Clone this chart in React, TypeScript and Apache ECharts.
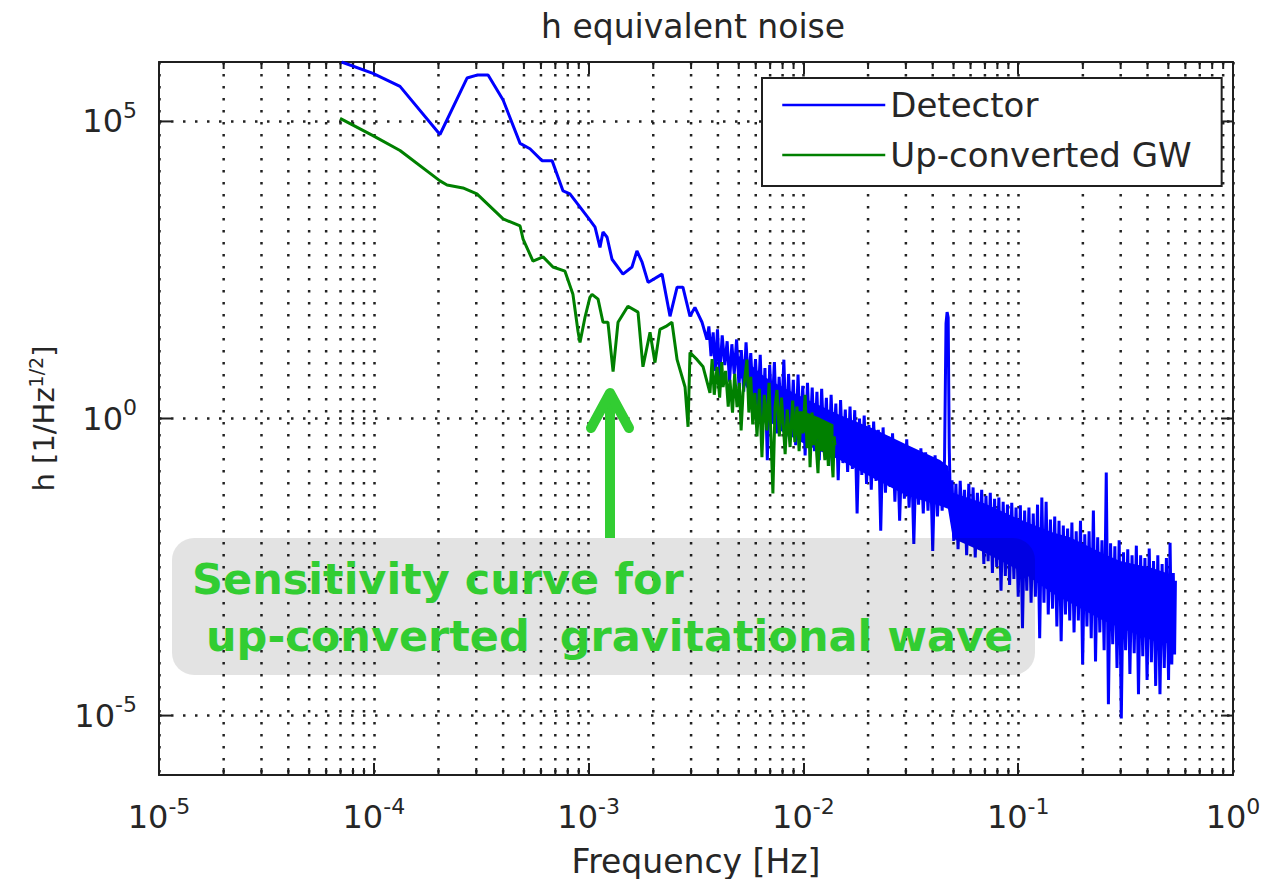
import React, { useEffect, useRef } from 'react';
import * as echarts from 'echarts';

// All points are [log10(frequency / Hz), log10(h / Hz^-1/2)].
const detectorLow: [number, number][] = [
  [-4.15, 6.0], [-4.004, 5.81], [-3.878, 5.59], [-3.692, 4.78], [-3.566, 5.73], [-3.52, 5.78],
  [-3.468, 5.78], [-3.398, 5.36], [-3.319, 4.63], [-3.273, 4.54], [-3.217, 4.34], [-3.17, 4.34],
  [-3.119, 3.83], [-3.087, 3.78], [-2.998, 3.36], [-2.97, 3.22], [-2.947, 2.88], [-2.933, 3.14],
  [-2.914, 3.05], [-2.891, 2.68], [-2.84, 2.43], [-2.798, 2.55], [-2.775, 2.82], [-2.751, 2.63],
  [-2.723, 2.29], [-2.658, 2.43], [-2.621, 1.72], [-2.588, 2.21], [-2.561, 2.21], [-2.528, 1.72],
  [-2.505, 1.87], [-2.472, 1.62], [-2.449, 1.33],
];

const detectorNoise: [number, number][] = [
  [-2.44, 1.55], [-2.43, 1.05], [-2.42, 1.45], [-2.41, 0.8], [-2.4, 1.5], [-2.39, 0.7], [-2.378, 1.4], [-2.366, 0.9], [-2.355, 1.3], [-2.344, 0.62],
  [-2.333, 1.25], [-2.322, 0.75], [-2.311, 1.33], [-2.3, 0.55], [-2.289, 1.15], [-2.278, 0.45], [-2.267, 1.28], [-2.256, 0.6], [-2.245, 1.1], [-2.234, 0.3],
  [-2.223, 1.0], [-2.212, 0.2], [-2.201, 1.07], [-2.19, -0.1], [-2.179, 0.85], [-2.168, -0.7], [-2.157, 0.9], [-2.146, 0.1], [-2.135, 0.95], [-2.124, -0.25],
  [-2.113, 0.7], [-2.102, -0.05], [-2.091, 0.99], [-2.08, -0.3], [-2.069, 0.75], [-2.058, -0.2], [-2.047, 0.65], [-2.036, -0.45], [-2.025, 0.74], [-2.014, -0.35],
  [-2.003, 0.55], [-1.992, -0.62], [-1.981, 0.6], [-1.97, -0.4], [-1.959, 0.52], [-1.948, -0.55], [-1.937, 0.45], [-1.926, -0.7], [-1.915, 0.5], [-1.904, -0.48],
  [-1.893, 0.35], [-1.882, -0.8], [-1.871, 0.4], [-1.86, -0.6], [-1.849, 0.25], [-1.838, -1.04], [-1.827, 0.31], [-1.816, -0.75], [-1.805, 0.15], [-1.794, -0.9],
  [-1.783, 0.2], [-1.772, -0.85], [-1.761, 0.14], [-1.75, -1.6], [-1.739, 0.0], [-1.728, -0.95], [-1.717, 0.05], [-1.706, -1.1], [-1.695, -0.11], [-1.684, -1.2],
  [-1.673, -0.05], [-1.662, -1.05], [-1.651, -0.19], [-1.64, -1.89], [-1.629, -0.15], [-1.618, -1.25], [-1.607, -0.3], [-1.596, -1.15], [-1.585, -0.25], [-1.574, -1.4],
  [-1.563, -0.4], [-1.552, -1.72], [-1.541, -0.45], [-1.53, -1.35], [-1.519, -0.35], [-1.508, -1.5], [-1.497, -0.55], [-1.486, -2.11], [-1.475, -0.58], [-1.464, -1.45],
  [-1.453, -0.5], [-1.442, -1.6], [-1.431, -0.57], [-1.42, -1.55], [-1.409, -0.65], [-1.398, -2.23], [-1.387, -0.62], [-1.376, -1.65], [-1.365, -0.75], [-1.354, -1.55],
  [-1.343, -0.7], [-1.336, 1.6], [-1.331, 1.79], [-1.326, 1.7], [-1.321, -0.5], [-1.315, -1.6], [-1.308, -1.04], [-1.3, -2.06], [-1.29, -1.1], [-1.28, -2.2],
  [-1.27, -1.05], [-1.26, -1.95], [-1.25, -1.2], [-1.24, -2.3], [-1.23, -1.1], [-1.22, -2.1], [-1.21, -1.16], [-1.2, -2.34], [-1.19, -1.25], [-1.18, -2.2],
  [-1.17, -1.2], [-1.16, -2.45], [-1.15, -1.3], [-1.14, -2.4], [-1.13, -1.25], [-1.12, -2.6], [-1.11, -1.35], [-1.1, -2.5], [-1.09, -1.33], [-1.08, -2.9],
  [-1.07, -1.4], [-1.06, -2.65], [-1.05, -1.45], [-1.04, -2.8], [-1.03, -1.42], [-1.02, -2.7], [-1.01, -1.5], [-1.0, -3.0], [-0.99, -1.46], [-0.98, -3.53],
  [-0.97, -1.55], [-0.96, -2.9], [-0.95, -1.5], [-0.94, -3.1], [-0.93, -1.6], [-0.92, -3.0], [-0.91, -1.45], [-0.9, -3.7], [-0.89, -1.33], [-0.88, -3.1],
  [-0.87, -1.4], [-0.86, -3.3], [-0.85, -1.7], [-0.84, -3.2], [-0.83, -1.65], [-0.82, -3.5], [-0.81, -1.72], [-0.8, -3.75], [-0.79, -1.8], [-0.78, -3.3],
  [-0.77, -1.85], [-0.76, -3.4], [-0.75, -1.75], [-0.74, -3.6], [-0.73, -1.9], [-0.72, -3.4], [-0.71, -1.72], [-0.7, -4.14], [-0.69, -1.95], [-0.68, -3.5],
  [-0.67, -1.9], [-0.66, -3.7], [-0.65, -1.55], [-0.64, -4.09], [-0.63, -2.0], [-0.62, -3.6], [-0.61, -2.05], [-0.6, -3.9], [-0.59, -0.91], [-0.58, -4.81],
  [-0.57, -2.1], [-0.56, -3.8], [-0.55, -2.15], [-0.54, -4.2], [-0.53, -2.05], [-0.52, -5.05], [-0.51, -2.25], [-0.5, -3.9], [-0.49, -2.2], [-0.48, -4.3],
  [-0.47, -2.3], [-0.46, -3.95], [-0.45, -2.14], [-0.44, -4.64], [-0.43, -2.3], [-0.42, -4.0], [-0.41, -2.35], [-0.4, -4.4], [-0.39, -2.19], [-0.38, -4.1],
  [-0.37, -2.4], [-0.36, -4.5], [-0.35, -2.3], [-0.34, -4.64], [-0.33, -2.45], [-0.32, -4.2], [-0.31, -2.35], [-0.3, -4.4], [-0.293, -2.09], [-0.285, -4.14],
  [-0.278, -2.6], [-0.272, -3.97], [-0.268, -2.73],
];

// Solid core of the dense detector trace: [log10 f, upper log10 h, lower log10 h]
const detectorCore: [number, number, number][] = [
  [-2.3, 1.05, 0.75], [-2.25, 0.92, 0.42], [-2.18, 0.7, 0.02], [-2.109, 0.55, -0.2], [-1.983, 0.32, -0.45],
  [-1.83, 0.06, -0.7], [-1.676, -0.17, -1.0], [-1.518, -0.44, -1.3], [-1.364, -0.7, -1.47], [-1.327, -0.8, -1.52],
  [-1.304, -1.25, -2.02], [-1.155, -1.43, -2.26], [-0.992, -1.7, -2.56], [-0.838, -1.92, -2.95], [-0.759, -2.0, -3.1],
  [-0.605, -2.27, -3.4], [-0.526, -2.4, -3.52], [-0.372, -2.52, -3.74], [-0.279, -2.64, -3.8],
];

const gwLow: [number, number][] = [
  [-4.157, 5.05], [-4.004, 4.76], [-3.878, 4.51], [-3.692, 4.0], [-3.659, 3.93], [-3.585, 3.88],
  [-3.52, 3.78], [-3.398, 3.36], [-3.319, 3.24], [-3.305, 3.02], [-3.259, 2.65], [-3.212, 2.72],
  [-3.166, 2.55], [-3.11, 2.48], [-3.073, 2.09], [-3.049, 1.46], [-3.04, 1.28], [-3.017, 1.7],
  [-2.994, 2.04], [-2.984, 2.09], [-2.956, 2.01], [-2.933, 1.62], [-2.91, 1.62], [-2.886, 0.79],
  [-2.863, 1.62], [-2.817, 1.89], [-2.77, 1.79], [-2.747, 0.87], [-2.714, 1.45], [-2.691, 0.94],
  [-2.668, 1.5], [-2.64, 1.55], [-2.612, 1.62], [-2.588, 0.99], [-2.551, 0.53], [-2.537, -0.14],
  [-2.528, 1.11], [-2.495, 0.99], [-2.467, 0.87], [-2.435, 0.43],
];

const gwNoise: [number, number][] = [
  [-2.425, 1.0], [-2.415, 0.4], [-2.402, 0.87], [-2.39, 0.35], [-2.38, 0.95], [-2.374, 0.53], [-2.362, 0.8], [-2.35, 0.2],
  [-2.342, 0.65], [-2.33, 0.1], [-2.32, 0.75], [-2.309, 0.19], [-2.298, 0.6], [-2.29, -0.2], [-2.281, 0.43], [-2.263, 0.99],
  [-2.254, 0.1], [-2.245, 0.7], [-2.236, -0.1], [-2.226, 0.43], [-2.216, -0.3], [-2.205, 0.5], [-2.193, -0.65], [-2.182, 0.4],
  [-2.17, -0.2], [-2.16, 0.6], [-2.15, -0.4], [-2.142, -1.26], [-2.132, 0.2], [-2.123, 0.48], [-2.112, -0.3], [-2.102, 0.35],
  [-2.095, -0.03], [-2.085, -0.6], [-2.075, 0.15], [-2.062, -0.48], [-2.05, 0.3], [-2.04, -0.4], [-2.03, 0.2], [-2.02, -0.55],
  [-2.01, 0.1], [-2.002, -0.25], [-1.992, 0.4], [-1.983, -0.5], [-1.975, 0.05], [-1.969, -0.82], [-1.96, 0.1], [-1.952, -0.45],
  [-1.946, -0.03], [-1.938, -0.6], [-1.932, -0.92], [-1.924, -0.1], [-1.916, -0.55], [-1.909, -0.25], [-1.9, -0.7], [-1.892, -0.15],
  [-1.884, -0.8], [-1.876, -0.19], [-1.868, -0.65], [-1.862, -0.99], [-1.857, -0.3], [-1.853, -0.45],
];

const gwCore: [number, number, number][] = [
  [-2.04, 0.12, -0.05], [-2.0, 0.12, -0.22], [-1.93, 0.02, -0.36], [-1.86, -0.1, -0.38],
];

// Axis ticks
const xDecades = [1e-5, 1e-4, 1e-3, 1e-2, 1e-1];
const minorSteps = [2, 3, 4, 5, 6, 7, 8, 9];
const yLabelled = [1e-5, 1, 1e5];

const FONT = '"DejaVu Sans", sans-serif';
const TXT = '#262626';
const AXIS = '#1f1f1f';
const GRID = '#222222';
const BLUE = '#0000ff';
const GREEN = '#008000';
const GREEN_ANN = '#32cd32';

const toData = (pts: [number, number][]) => pts.map(([lf, lh]) => [Math.pow(10, lf), Math.pow(10, lh)]);

const supFormatter = (v: number) => {
  const e = Math.round(Math.log10(v));
  return `{b|10}{s|${e}}`;
};

const labelRich = {
  b: { fontFamily: FONT, fontSize: 32, lineHeight: 44, color: TXT },
  s: { fontFamily: FONT, fontSize: 22, lineHeight: 10, verticalAlign: 'top', color: TXT },
};

const coreSeries = (name: string, core: [number, number, number][], color: string, z: number) => ({
  type: 'custom', name, xAxisIndex: 0, yAxisIndex: 0, silent: true, z,
  encode: { x: 0, y: 1 },
  data: [[Math.pow(10, core[0][0]), Math.pow(10, core[0][1])]],
  renderItem: (params: any, api: any) => {
    const top = core.map(([f, u]) => api.coord([Math.pow(10, f), Math.pow(10, u)]));
    const bottom = core.map(([f, , l]) => api.coord([Math.pow(10, f), Math.pow(10, l)])).reverse();
    return { type: 'polygon', shape: { points: top.concat(bottom) }, style: { fill: color } };
  },
});

export default function App() {
  const ref = useRef<HTMLDivElement>(null);

  useEffect(() => {
    if (!ref.current) return;
    const chart = echarts.init(ref.current, null, { renderer: 'svg' });
    const xMinor: number[] = [];
    xDecades.forEach((d) => minorSteps.forEach((m) => xMinor.push(m * d)));

    const option: any = {
      animation: false,
      backgroundColor: '#ffffff',
      title: {
        text: 'h equivalent noise',
        left: 541,
        top: 6,
        padding: 0,
        textStyle: { fontFamily: FONT, fontSize: 33, fontWeight: 'normal', color: TXT, lineHeight: 40 },
      },
      legend: {
        data: ['Detector', 'Up-converted GW'],
        orient: 'vertical',
        left: 762,
        top: 78,
        padding: [10, 30, 14, 19],
        itemWidth: 103,
        itemHeight: 30,
        itemGap: 16,
        backgroundColor: '#ffffff',
        borderColor: AXIS,
        borderWidth: 2,
        borderRadius: 0,
        selectedMode: false,
        itemStyle: { color: 'rgba(0,0,0,0)', borderColor: 'rgba(0,0,0,0)', borderWidth: 0, opacity: 0 },
        lineStyle: { width: 2.5 },
        textStyle: { fontFamily: FONT, fontSize: 34, color: TXT, lineHeight: 30 },
        z: 10,
      },
      grid: { left: 159, right: 31, top: 62, bottom: 104, containLabel: false, outerBoundsMode: 'none' },
      xAxis: [
        {
          type: 'log', logBase: 10, min: 1e-5, max: 1, splitNumber: 5, position: 'bottom',
          axisLine: { show: true, onZero: false, lineStyle: { color: AXIS, width: 2 } },
          axisTick: { show: true, inside: true, length: 12, lineStyle: { color: AXIS, width: 2 } },
          minorTick: { show: false },
          splitLine: { show: true, lineStyle: { color: GRID, width: 2.5, type: [2.5, 9.5] } },
          axisLabel: { margin: 20, formatter: supFormatter, rich: labelRich, showMinLabel: true, showMaxLabel: true },
          name: 'Frequency [Hz]', nameLocation: 'middle', nameGap: 67, nameMoveOverlap: false,
          nameTextStyle: { fontFamily: FONT, fontSize: 33, color: TXT, lineHeight: 38 },
        },
        {
          type: 'log', logBase: 10, min: 1e-5, max: 1, splitNumber: 5, position: 'top',
          axisLine: { show: true, onZero: false, lineStyle: { color: AXIS, width: 2 } },
          axisTick: { show: true, inside: true, length: 12, lineStyle: { color: AXIS, width: 2 } },
          axisLabel: { show: false },
          splitLine: { show: false },
        },
      ],
      yAxis: [
        {
          type: 'log', logBase: 10, min: 1e-6, max: 1e6, position: 'left',
          axisLine: { show: true, onZero: false, lineStyle: { color: AXIS, width: 2 } },
          axisTick: { show: false },
          splitLine: { show: false },
          axisLabel: { show: false },
          name: '{n|h [1/Hz}{s|1/2}{n|]}', nameLocation: 'middle', nameRotate: 90, nameGap: 97, nameMoveOverlap: false,
          nameTextStyle: {
            rich: {
              n: { fontFamily: FONT, fontSize: 29, lineHeight: 36, color: TXT },
              s: { fontFamily: FONT, fontSize: 19, lineHeight: 10, verticalAlign: 'top', color: TXT },
            },
          },
        },
        {
          type: 'log', logBase: 10, min: 1e-6, max: 1e6, position: 'right',
          axisLine: { show: true, onZero: false, lineStyle: { color: AXIS, width: 2 } },
          axisTick: { show: false },
          axisLabel: { show: false },
          splitLine: { show: false },
        },
      ],
      series: [
        {
          type: 'custom', name: 'xMinorGrid', xAxisIndex: 0, yAxisIndex: 0, silent: true, z: 1,
          encode: { x: 0, y: 1 },
          data: xMinor.map((v) => [v, 1]),
          renderItem: (params: any, api: any) => {
            const cs = params.coordSys;
            const p = api.coord([api.value(0), 1]);
            const bottom = cs.y + cs.height;
            return {
              type: 'group',
              children: [
                { type: 'line', shape: { x1: p[0], y1: cs.y, x2: p[0], y2: bottom }, style: { stroke: GRID, lineWidth: 2.5, lineDash: [2.5, 9.5] } },
                { type: 'line', shape: { x1: p[0], y1: bottom, x2: p[0], y2: bottom - 7 }, style: { stroke: AXIS, lineWidth: 2 } },
                { type: 'line', shape: { x1: p[0], y1: cs.y, x2: p[0], y2: cs.y + 7 }, style: { stroke: AXIS, lineWidth: 2 } },
              ],
            };
          },
        },
        {
          type: 'custom', name: 'yMajorGrid', xAxisIndex: 0, yAxisIndex: 0, silent: true, z: 1,
          encode: { x: 0, y: 1 },
          data: yLabelled.map((v) => [1e-2, v]),
          renderItem: (params: any, api: any) => {
            const cs = params.coordSys;
            const v = api.value(1);
            const p = api.coord([1e-2, v]);
            const right = cs.x + cs.width;
            const e = Math.round(Math.log10(v));
            return {
              type: 'group',
              children: [
                { type: 'line', shape: { x1: cs.x, y1: p[1], x2: right, y2: p[1] }, style: { stroke: GRID, lineWidth: 2.5, lineDash: [2.5, 9.5] } },
                { type: 'line', shape: { x1: cs.x, y1: p[1], x2: cs.x + 12, y2: p[1] }, style: { stroke: AXIS, lineWidth: 2 } },
                { type: 'line', shape: { x1: right - 12, y1: p[1], x2: right, y2: p[1] }, style: { stroke: AXIS, lineWidth: 2 } },
                {
                  type: 'text', x: cs.x - 22, y: p[1],
                  style: {
                    text: `{b|10}{s|${e}}`, align: 'right', verticalAlign: 'middle',
                    rich: {
                      b: { fontFamily: FONT, fontSize: 32, lineHeight: 44, fill: TXT },
                      s: { fontFamily: FONT, fontSize: 22, lineHeight: 8, verticalAlign: 'top', fill: TXT },
                    },
                  },
                },
              ],
            };
          },
        },
        coreSeries('detectorCore', detectorCore, BLUE, 3),
        {
          type: 'line', name: 'Detector', xAxisIndex: 0, yAxisIndex: 0, z: 3,
          data: toData([...detectorLow, ...detectorNoise]),
          showSymbol: false, symbol: 'none', color: BLUE,
          lineStyle: { color: BLUE, width: 3 },
        },
        coreSeries('gwCore', gwCore, GREEN, 4),
        {
          type: 'line', name: 'Up-converted GW', xAxisIndex: 0, yAxisIndex: 0, z: 4,
          data: toData([...gwLow, ...gwNoise]),
          showSymbol: false, symbol: 'none', color: GREEN,
          lineStyle: { color: GREEN, width: 3 },
        },
      ],
      graphic: [
        {
          type: 'rect', z: 50, silent: true,
          shape: { x: 172, y: 538, width: 863, height: 137, r: 22 },
          style: { fill: 'rgba(0,0,0,0.11)' },
        },
        {
          type: 'text', z: 51, silent: true,
          style: { x: 192, y: 579, text: 'Sensitivity curve for', fill: GREEN_ANN, fontFamily: FONT, fontSize: 43, fontWeight: 'bold', align: 'left', verticalAlign: 'middle' },
        },
        {
          type: 'text', z: 51, silent: true,
          style: { x: 206, y: 636, text: 'up-converted  gravitational wave', fill: GREEN_ANN, fontFamily: FONT, fontSize: 43, fontWeight: 'bold', align: 'left', verticalAlign: 'middle' },
        },
        {
          type: 'line', z: 52, silent: true,
          shape: { x1: 610, y1: 397, x2: 610, y2: 538 },
          style: { stroke: GREEN_ANN, lineWidth: 10, lineCap: 'butt' },
        },
        {
          type: 'polyline', z: 52, silent: true,
          shape: { points: [[591, 428], [610, 393], [629, 428]] },
          style: { stroke: GREEN_ANN, lineWidth: 10, lineCap: 'round', lineJoin: 'round', fill: null },
        },
      ],
    };

    chart.setOption(option);
    return () => chart.dispose();
  }, []);

  return (
    <div
      ref={ref}
      style={{ position: 'fixed', left: 0, top: 0, width: 1264, height: 879, background: '#fff' }}
    />
  );
}
